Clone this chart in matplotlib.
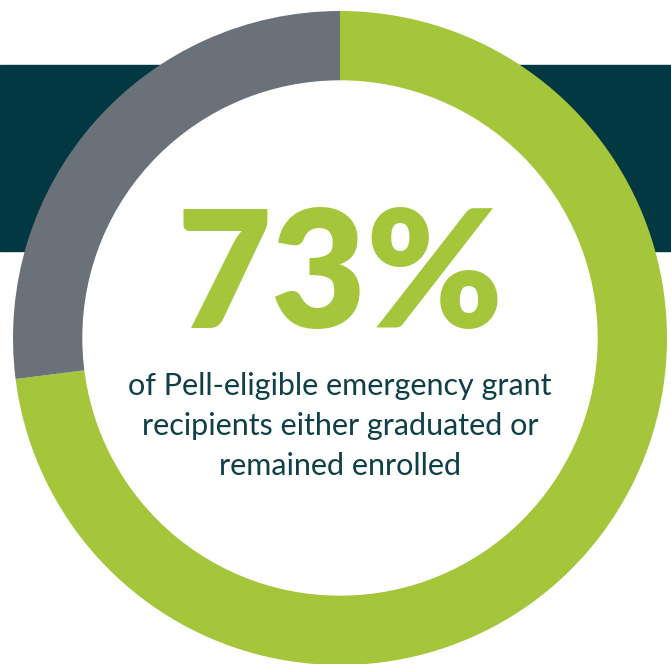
import matplotlib.pyplot as plt
from matplotlib.patches import Circle, Rectangle

# Data
segments = ['Graduated or remained enrolled', 'Other']
shares = [73, 27]
headline = '73%'
caption_lines = ['of Pell-eligible emergency grant',
                 'recipients either graduated or',
                 'remained enrolled']

green = '#a5c63b'
gray = '#6a7179'
dark_teal = '#013842'
text_color = '#0f3f47'

W, H = 671, 664
fig = plt.figure(figsize=(W / 100, H / 100), dpi=100)
ax = fig.add_axes([0, 0, 1, 1])

cx, cy = 340, H - 338
outer_r = 327
ring = 70

# dark band behind the ring
ax.add_patch(Rectangle((0, H - 251), W, 186, color=dark_teal, zorder=0))

ax.pie(shares, colors=[green, gray], startangle=90, counterclock=False,
       radius=outer_r, center=(cx, cy),
       wedgeprops=dict(width=ring, linewidth=0, zorder=2))

# white centre
ax.add_patch(Circle((cx, cy), outer_r - ring, color='white', zorder=3))

ax.text(cx, H - 328, headline, ha='center', va='baseline', fontsize=118,
        fontweight='heavy', family='Lato', color=green, zorder=4)

# caption, one line at a time
for i, line in enumerate(caption_lines):
    ax.text(cx, H - 395 - 40 * i, line, ha='center', va='baseline',
            fontsize=22, family='Lato', color=text_color, zorder=4)

ax.set_xlim(0, W)
ax.set_ylim(0, H)
ax.set_aspect('auto')
ax.axis('off')

fig.savefig('out.png', dpi=100, facecolor='white')
